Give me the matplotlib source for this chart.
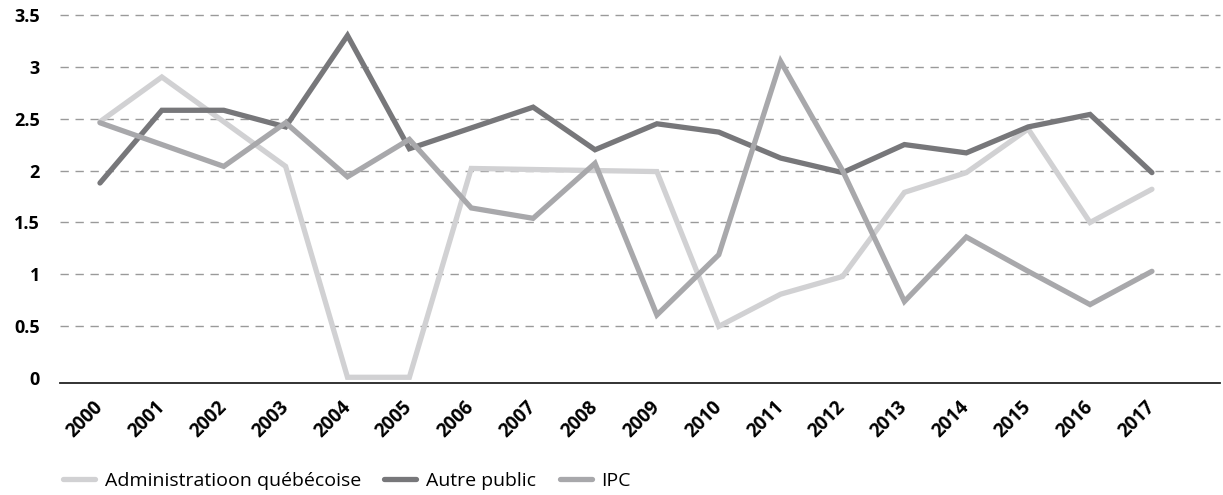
import matplotlib
matplotlib.use("Agg")
import matplotlib.pyplot as plt
from matplotlib.transforms import ScaledTranslation

years = [str(y) for y in range(2000, 2018)]
admin_qc = [2.47, 2.90, 2.47, 2.04, 0.01, 0.01, 2.02, 2.01, 2.00, 1.99, 0.50, 0.81, 0.98, 1.79, 1.98, 2.40, 1.50, 1.82]
autre_public = [1.88, 2.58, 2.58, 2.42, 3.30, 2.21, 2.41, 2.61, 2.20, 2.45, 2.37, 2.12, 1.98, 2.25, 2.17, 2.42, 2.54, 1.98]
ipc = [2.46, 2.25, 2.04, 2.46, 1.94, 2.30, 1.64, 1.54, 2.07, 0.61, 1.19, 3.05, 2.00, 0.74, 1.36, 1.03, 0.71, 1.03]
series_names = ["Administratioon québécoise", "Autre public", "IPC"]
y_ticks = [0, 0.5, 1, 1.5, 2, 2.5, 3, 3.5]
y_labels = ["0", "0.5", "1", "1.5", "2", "2.5", "3", "3.5"]

plt.rcParams['font.family'] = ['Open Sans', 'DejaVu Sans']

W, H = 1223, 495
fig = plt.figure(figsize=(W / 100, H / 100), dpi=100)
left, right, top, bottom = 60, 1220, 14.7, 383
ax = fig.add_axes([left / W, 1 - bottom / H, (right - left) / W, (bottom - top) / H])

x = list(range(len(years)))
colors = ["#d1d1d3", "#77777a", "#a8a8ab"]
for vals, name, c in zip([admin_qc, autre_public, ipc], series_names, colors):
    ax.plot(x, vals, color=c, lw=3.8, label=name, solid_capstyle='round', solid_joinstyle='miter')

ax.set_xlim(-0.646, 18.1)
ax.set_ylim(-0.045, 3.5)
ax.set_yticks(y_ticks)
ax.set_yticklabels(y_labels, fontsize=13, fontweight='bold')
ax.set_xticks(x)
ax.set_xticklabels(years, fontsize=13.5, fontweight='bold', rotation=45,
                   ha='right', va='center', rotation_mode='anchor')
offset = ScaledTranslation(4 / 100, 0, fig.dpi_scale_trans)
for lab in ax.get_xticklabels():
    lab.set_transform(lab.get_transform() + offset)
ax.tick_params(axis='y', length=0, pad=14.4)
ax.tick_params(axis='x', length=0, pad=15)

for yv in y_ticks[1:]:
    ax.axhline(yv, color='#9a9a9a', lw=1.0, dashes=(6, 4.8), zorder=0, clip_on=False)

for s in ['top', 'right', 'left']:
    ax.spines[s].set_visible(False)
ax.spines['bottom'].set_color('#222222')
ax.spines['bottom'].set_linewidth(1.3)

fig.legend(loc='center left', bbox_to_anchor=(63 / W, 1 - 481 / H), ncol=3, frameon=False,
           fontsize=14, handlelength=1.65, handletextpad=0.5, columnspacing=1.2,
           borderpad=0, borderaxespad=0)

fig.savefig("out.png", dpi=100)
